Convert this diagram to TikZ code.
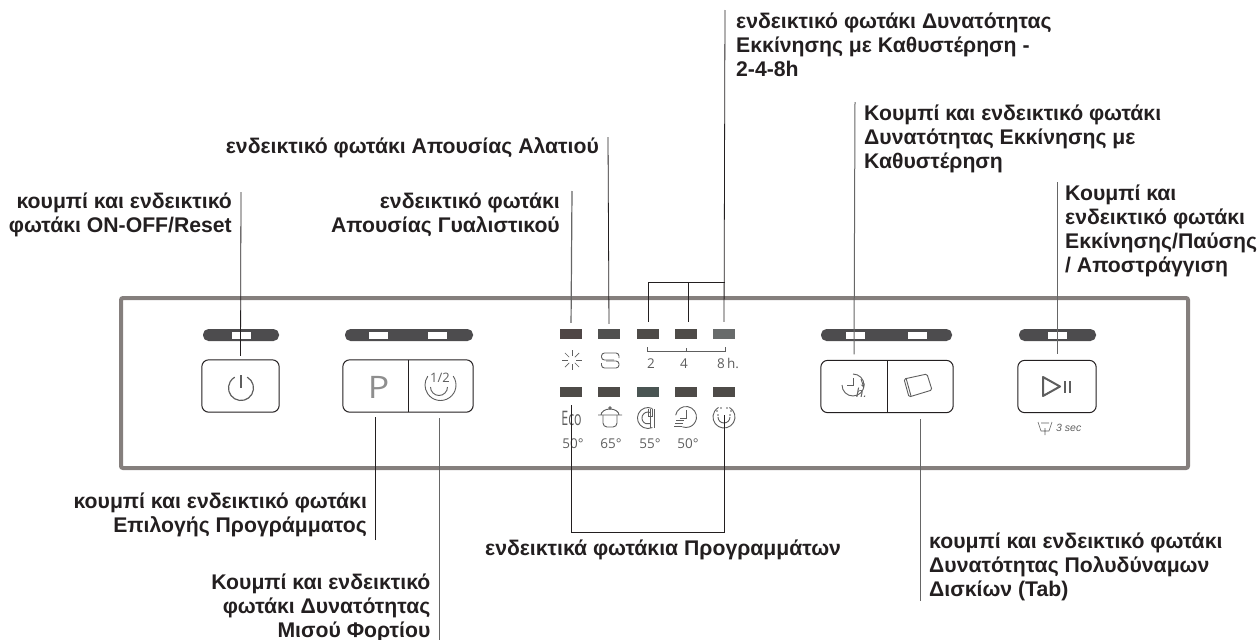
\documentclass[tikz,border=0pt]{standalone}
\usepackage{fontspec}
\setmainfont{Liberation Sans}
\newfontfamily\thinfont{Open Sans}
\definecolor{framegray}{HTML}{857F7D}
\definecolor{bardark}{HTML}{4D4C4E}
\definecolor{leddark}{HTML}{4E4B48}
\definecolor{iconcol}{HTML}{5E5E5E}
\definecolor{inkcol}{HTML}{231F20}
\tikzset{
  lbl/.style={font=\fontsize{21.2}{23.8}\bfseries\selectfont,text=inkcol,inner sep=0pt},
  leader/.style={draw=inkcol,line width=0.8pt},
  leaderg/.style={draw=black!60,line width=1pt},
  key/.style={minimum height=52,inner sep=0pt},
  ledbar/.style={fill=bardark,rounded corners=5.5pt,minimum height=12,inner sep=0pt},
  ledwin/.style={fill=white,minimum width=19,minimum height=7,inner sep=0pt},
  ledsq/.style={minimum width=22,minimum height=10,inner sep=0pt},
  keybox/.style={draw=inkcol,line width=1pt,rounded corners=7pt},
  icon/.style={draw=iconcol,line width=0.9pt},
  itxt/.style={font=\thinfont\fontsize{13.5}{14}\selectfont,text=iconcol,inner sep=0pt}
}
\begin{document}
\begin{tikzpicture}[x=1pt,y=-1pt]
  \useasboundingbox (0,0) rectangle (1259,640);
  \draw[framegray,line width=4pt,rounded corners=2pt] (121,298) rectangle (1188,468);

  % led bars over the keys
  \node[ledbar,minimum width=76] (barpower) at (241,335) {};
  \node[ledbar,minimum width=128] (barprog) at (409,335) {};
  \node[ledbar,minimum width=131] (bardelay) at (886.5,335) {};
  \node[ledbar,minimum width=77] (barplay) at (1057.5,335) {};
  \foreach \n/\x in {a/241,b/378.5,c/437.5,d/855,e/917.5,f/1057}
    \node[ledwin] (win\n) at (\x,335) {};

  % keys
  \node[key,minimum width=77] (keypower) at (240.5,386) {};
  \draw[keybox] (keypower.north west) rectangle (keypower.south east);
  \node[key,minimum width=65] (keyp) at (375.5,386) {};
  \node[key,minimum width=65] (keyhalf) at (440.5,386) {};
  \draw[keybox] (keyp.north west) rectangle (keyhalf.south east);
  \draw[inkcol,line width=1pt] (keyp.north east) -- (keyp.south east);
  \node[key,minimum width=66] (keydelay) at (854,386.5) {};
  \node[key,minimum width=66] (keytab) at (920,386.5) {};
  \draw[keybox] (keydelay.north west) rectangle (keytab.south east);
  \draw[inkcol,line width=1.2pt] (keydelay.north east) -- (keydelay.south east);
  \node[key,minimum width=78] (keyplay) at (1057,386.5) {};
  \draw[keybox] (keyplay.north west) rectangle (keyplay.south east);

  % key icons
  \draw[icon,line width=1.2pt] (241,388) ++(-60:12.5) arc (-60:240:12.5);
  \draw[icon,line width=1.2pt] (241,375) -- (241,388);
  \node[font=\thinfont\fontsize{31}{32}\selectfont,text=iconcol!70,inner sep=0pt,xscale=1.15] (letterp) at (378.5,387) {P};
  \draw[icon] (440.5,385) ++(-35:15.5) arc (-35:215:15.5);
  \draw[icon] (439,387) ++(0:8.5) arc (0:180:8.5);
  \node[itxt,font=\thinfont\fontsize{13}{13}\selectfont] (half) at (440,378) {1/2};
  \draw[icon] (853,374) arc (-90:180:11);
  \draw[icon,-stealth] (861,379) -- (864,388);
  \draw[icon] (853,378) -- (853,385) -- (847,385);
  \node[itxt,font=\itshape\fontsize{13}{13}\selectfont] (hours) at (861.5,393) {h.};
  \draw[icon,rounded corners=1.5pt] (904,379) -- (927,374) -- (932,390) -- (909,397) -- cycle;
  \draw[icon] (906,378) -- (911,396);
  \draw[iconcol,line width=2pt,line join=round] (1043,377) -- (1060,386.5) -- (1043,396) -- cycle;
  \draw[iconcol,line width=2pt] (1065,381) -- (1065,393) (1070,381) -- (1070,393);
  \draw[icon,line width=0.6pt] (1038,422) -- (1041,431) -- (1049,431) -- (1052,422) (1041,423) -- (1049,423) (1045,428) -- (1045,435);
  \node[itxt,font=\itshape\fontsize{10.5}{11}\selectfont,anchor=west] (drainsec) at (1056,428) {3 sec};

  % small leds
  \foreach \n/\x/\c in {1/571/4F4645,2/609/50504F,3/648/4E4B48,4/686/4E4B48,5/724/686B6B}{
    \definecolor{ledc}{HTML}{\c}
    \node[ledsq,fill=ledc] (ledt\n) at (\x,334) {};
  }
  \foreach \n/\x/\c in {1/571/4E4B48,2/609/4E4B48,3/648/4A5553,4/686/4E4B48,5/724/4E4B48}{
    \definecolor{ledc}{HTML}{\c}
    \node[ledsq,fill=ledc] (ledb\n) at (\x,392) {};
  }

  % led legends
  \foreach \a in {0,45,...,315}
    \draw[icon,line width=0.7pt] (572,360) ++(\a:4) -- ++(\a:6);
  \draw[icon,rounded corners=3pt] (619,358) -- (619,353) -- (601.5,353) -- (601.5,360) -- (614,360);
  \draw[icon,rounded corners=3pt] (601.5,363) -- (601.5,368) -- (619,368) -- (619,361) -- (606,361);
  \draw[iconcol,line width=0.8pt] (647,347) -- (647,351) -- (725,351) -- (725,347) (686,348) -- (686,351);
  \node[itxt] (numtwo) at (651,363.5) {2};
  \node[itxt] (numfour) at (684,363.5) {4};
  \node[itxt] (numeight) at (728,363.5) {8\,h.};
  \node[itxt,font=\thinfont\fontsize{20}{20}\selectfont,xscale=0.62] (eco) at (571.5,418) {Eco};
  \foreach \n/\x/\t in {a/573/50,b/611/65,c/650/55,d/688/50}
    \node[itxt] (temp\n) at (\x,444) {\t°};
  \draw[icon] (598,415) -- (622,415) (601,415) arc (180:360:9 and 6);
  \draw[icon,rounded corners=4pt] (603,415) -- (603,427) -- (617,427) -- (617,415);
  \draw[icon] (610,408) circle (1.2);
  \draw[icon] (652.4,408.5) arc (-65:-295:10.5);
  \draw[icon] (650,412.4) arc (-70:-290:6);
  \draw[icon] (650,409) -- (650,428) (654.5,409) -- (654.5,428) (648,409) -- (648,416) -- (652,416) -- (652,409);
  \draw[icon] (686,417) ++(190:10.5) arc (190:470:10.5);
  \draw[icon] (686,410) -- (686,418) -- (680,418);
  \draw[icon] (676,420) -- (684,420) (675,423) -- (683,423) (674,426) -- (682,426);
  \draw[icon] (724,417) ++(-60:11) arc (-60:240:11);
  \draw[icon] (730,417) arc (0:180:6);
  \foreach \x/\y in {717/411,721/408,727/408,731/411,718/415,730/415}
    \fill[iconcol] (\x,\y) circle (0.8);

  % labels
  \node[lbl,anchor=base east,align=right] (lblpower) at (232,232) {κουμπί και ενδεικτικό\\φωτάκι ON-OFF/Reset};
  \node[lbl,anchor=base east,align=right] (lblrinse) at (560,232) {ενδεικτικό φωτάκι\\Απουσίας Γυαλιστικού};
  \node[lbl,anchor=base east] (lblsalt) at (599,153) {ενδεικτικό φωτάκι Απουσίας Αλατιού};
  \node[lbl,anchor=base west,align=left] (lblhours) at (736,76) {ενδεικτικό φωτάκι Δυνατότητας\\Εκκίνησης με Καθυστέρηση -\\2-4-8h};
  \node[lbl,anchor=base west,align=left] (lbldelay) at (864,168) {Κουμπί και ενδεικτικό φωτάκι\\Δυνατότητας Εκκίνησης με\\Καθυστέρηση};
  \node[lbl,anchor=base west,align=left] (lblplay) at (1065,272) {Κουμπί και\\ενδεικτικό φωτάκι\\Εκκίνησης/Παύσης\\/ Αποστράγγιση};
  \node[lbl,anchor=base east,align=right] (lblprog) at (367,532) {κουμπί και ενδεικτικό φωτάκι\\Επιλογής Προγράμματος};
  \node[lbl,anchor=base east,align=right] (lblhalf) at (430.5,637) {Κουμπί και ενδεικτικό\\φωτάκι Δυνατότητας\\Μισού Φορτίου};
  \node[lbl,anchor=base west] (lblleds) at (485,555) {ενδεικτικά φωτάκια Προγραμμάτων};
  \node[lbl,anchor=base west,align=left] (lbltab) at (929,596) {κουμπί και ενδεικτικό φωτάκι\\Δυνατότητας Πολυδύναμων\\Δισκίων (Tab)};

  % leader ends
  \coordinate (endpower) at (241,192);
  \coordinate (endrinse) at (572,191);
  \coordinate (endsalt) at (608,137);
  \coordinate (endhours) at (725,10);
  \coordinate (forkl) at (648,282);
  \coordinate (forkm) at (688,282);
  \coordinate (forkr) at (725,282);
  \coordinate (enddelay) at (855,102);
  \coordinate (endplay) at (1057,182);
  \coordinate (endprog) at (375.5,540);
  \coordinate (endhalf) at (439,640);
  \coordinate (endtab) at (920,601);
  \coordinate (progl) at (571,532);
  \coordinate (progr) at (724,532);

  % leaders
  \draw[leader,shorten >=4pt] (endpower) -- (keypower.north);
  \draw[leaderg,line width=1.2pt,shorten >=6pt] (endrinse) -- (ledt1.north);
  \draw[leader,shorten >=5pt] (endsalt) -- (ledt2.north);
  \draw[leader,shorten >=7pt] (endhours) -- (ledt5.north);
  \draw[leader,shorten >=7pt] (forkl) -- (ledt3.north);
  \draw[leader,shorten >=7pt] (forkm) -- ([xshift=2pt]ledt4.north);
  \draw[leader] (forkl) -- (forkr);
  \draw[leaderg,shorten >=6pt] (enddelay) -- (keydelay.north);
  \draw[leaderg,shorten >=6pt] (endplay) -- (keyplay.north);
  \draw[leader,shorten >=5pt] (endprog) -- (keyp.south);
  \draw[leaderg,shorten >=6pt] (endhalf) -- ([xshift=-1.5pt]keyhalf.south);
  \draw[leaderg,shorten >=6pt] (endtab) -- (keytab.south);
  \draw[leader,shorten <=8pt,shorten >=18pt] (ledb1.south) -- (progl) -- (progr) -- (ledb5.south);
\end{tikzpicture}
\end{document}
